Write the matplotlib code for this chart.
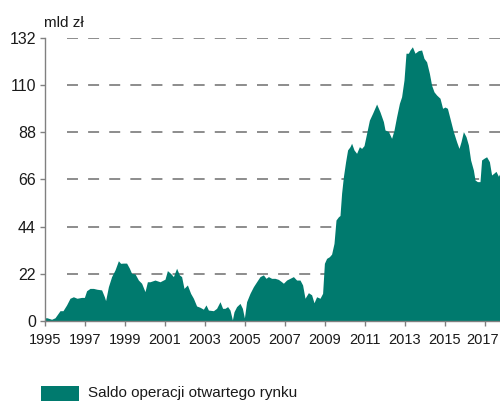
import matplotlib
matplotlib.use("Agg")
import matplotlib.pyplot as plt
import matplotlib.transforms as mtransforms
from matplotlib.patches import Rectangle

# (rok ułamkowy, mld zł)
dates = [1995.0, 1995.1, 1995.33, 1995.5, 1995.75, 1995.9, 1996.08, 1996.25, 1996.42, 1996.6,
         1996.83, 1996.97, 1997.08, 1997.25, 1997.42, 1997.6, 1997.83, 1997.97, 1998.03, 1998.17,
         1998.33, 1998.5, 1998.67, 1998.78, 1998.92, 1999.08, 1999.22, 1999.33, 1999.5, 1999.67,
         1999.83, 2000.0, 2000.12, 2000.25, 2000.5, 2000.75, 2001.0, 2001.12, 2001.28, 2001.42,
         2001.58, 2001.72, 2001.83, 2001.95, 2002.12, 2002.28, 2002.42, 2002.58, 2002.75, 2002.92,
         2003.05, 2003.17, 2003.42, 2003.58, 2003.75, 2003.88, 2004.0, 2004.13, 2004.25, 2004.37,
         2004.45, 2004.58, 2004.75, 2004.87, 2004.97, 2005.08, 2005.25, 2005.42, 2005.58, 2005.75,
         2005.92, 2006.05, 2006.17, 2006.33, 2006.5, 2006.67, 2006.83, 2006.92, 2007.08, 2007.25,
         2007.42, 2007.58, 2007.75, 2007.88, 2008.0, 2008.17, 2008.33, 2008.45, 2008.58, 2008.75,
         2008.88, 2008.97, 2009.08, 2009.22, 2009.33, 2009.45, 2009.55, 2009.67, 2009.75, 2009.83,
         2009.92, 2010.03, 2010.13, 2010.25, 2010.33, 2010.45, 2010.58, 2010.72, 2010.83, 2010.95,
         2011.08, 2011.22, 2011.38, 2011.58, 2011.75, 2011.92, 2012.0, 2012.17, 2012.33, 2012.45,
         2012.58, 2012.72, 2012.83, 2012.95, 2013.05, 2013.17, 2013.25, 2013.37, 2013.5, 2013.67,
         2013.83, 2013.95, 2014.08, 2014.22, 2014.33, 2014.45, 2014.58, 2014.75, 2014.88, 2015.0,
         2015.12, 2015.25, 2015.42, 2015.58, 2015.7, 2015.8, 2015.92, 2016.05, 2016.17, 2016.28,
         2016.42, 2016.5, 2016.62, 2016.75, 2016.83, 2016.95, 2017.08, 2017.22, 2017.33, 2017.45,
         2017.55, 2017.67, 2017.75]
saldo = [1.5, 1.5, 0.8, 1.5, 4.8, 4.8, 7.5, 10.6, 11.3, 10.6,
         11.0, 11.0, 14.1, 15.2, 15.2, 14.8, 14.5, 11.3, 9.5, 16.0,
         20.7, 23.8, 28.1, 26.9, 27.0, 27.0, 24.6, 22.2, 22.0, 19.1,
         17.6, 13.7, 18.3, 18.3, 19.1, 18.3, 19.5, 23.5, 22.2, 20.7,
         24.6, 21.5, 20.7, 15.2, 16.8, 12.9, 10.6, 7.0, 6.4, 5.5,
         7.5, 5.1, 4.8, 5.9, 9.0, 5.9, 5.9, 6.7, 5.1, 0.5,
         4.3, 6.7, 8.2, 5.9, 1.4, 9.0, 12.9, 16.0, 18.3, 20.7,
         21.5, 19.9, 20.7, 19.9, 19.9, 19.4, 18.3, 17.6, 19.1, 19.9,
         20.7, 19.1, 19.1, 16.8, 10.6, 13.2, 12.2, 8.5, 11.3, 10.6,
         12.9, 26.9, 29.2, 30.0, 31.2, 36.2, 47.1, 48.6, 49.2, 59.6,
         67.3, 74.3, 79.8, 81.3, 82.9, 79.8, 78.2, 81.3, 80.5, 81.8,
         87.5, 93.7, 96.9, 101.2, 97.5, 93.0, 89.1, 88.4, 85.2, 89.0,
         95.3, 101.5, 104.6, 112.4, 124.9, 124.9, 126.4, 127.9, 124.9, 126.1,
         126.4, 122.5, 120.9, 115.5, 110.0, 106.9, 105.4, 103.9, 99.2, 99.8,
         99.2, 94.5, 88.3, 83.6, 80.5, 83.6, 88.3, 86.0, 82.1, 75.1,
         70.4, 65.8, 65.0, 65.0, 75.1, 75.9, 76.6, 74.3, 68.1, 69.0,
         69.8, 67.5, 69.0]

yticks = [0, 22, 44, 66, 88, 110, 132]
xticks = list(range(1995, 2018, 2))

plt.rcParams['font.family'] = ['Liberation Sans', 'DejaVu Sans']
plt.rcParams['lines.scale_dashes'] = False

fig = plt.figure(figsize=(5, 4.03), dpi=100)
ax = fig.add_axes([0.09, 0.2035, 0.91, 0.7022])

teal = '#007a6e'
grey = '#808080'

for v in yticks[1:]:
    ax.axhline(v, color='#6e6e6e', lw=1.1, linestyle=(0, (7.9, 7.3)),
               xmin=0.048, zorder=1)
ax.fill_between(dates, saldo, 0, color=teal, lw=0, zorder=2)

ax.set_xlim(1995, 2017.75)
ax.set_ylim(0, 132)
ax.set_yticks(yticks)
ax.set_xticks(xticks)
ax.tick_params(axis='both', colors=grey, labelcolor='#1a1a1a',
               length=3.5, width=1)
ax.tick_params(axis='y', pad=3, labelsize=11.5)
ax.tick_params(axis='x', pad=5, labelsize=10.5)

# ostatnia etykieta lekko w lewo, żeby zmieściła się w kadrze
last = ax.get_xticklabels()[-1]
last.set_transform(last.get_transform() +
                   mtransforms.ScaledTranslation(-2.5 / 100, 0, fig.dpi_scale_trans))

for s in ['top', 'right']:
    ax.spines[s].set_visible(False)
for s in ['left', 'bottom']:
    ax.spines[s].set_color(grey)
    ax.spines[s].set_linewidth(1)

fig.text(0.088, 0.943, 'mld zł', fontsize=11, color='#1a1a1a', va='center', ha='left')

fig.add_artist(Rectangle((0.082, 0.005), 0.076, 0.037, transform=fig.transFigure,
                         color=teal, lw=0))
fig.text(0.176, 0.024, 'Saldo operacji otwartego rynku', fontsize=11,
         color='#1a1a1a', va='center', ha='left')

fig.savefig('out.png', dpi=100)
